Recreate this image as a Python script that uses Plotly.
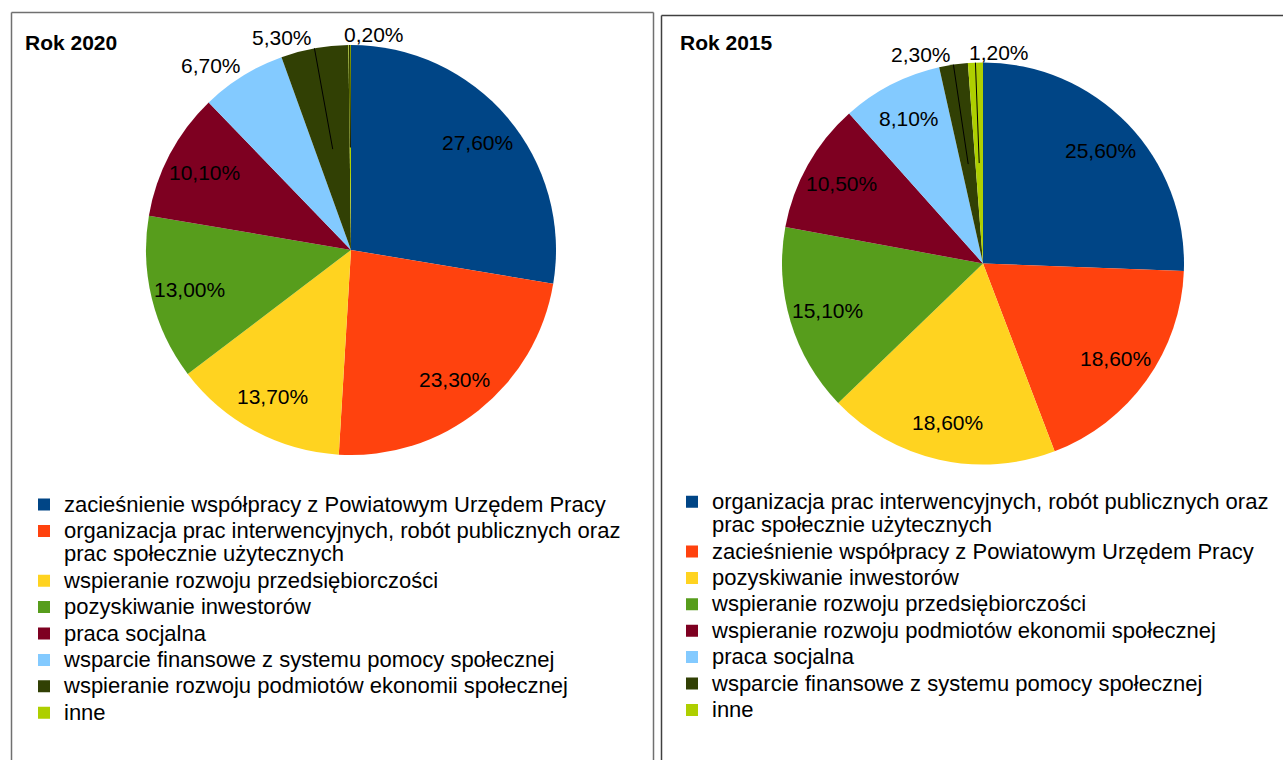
import math
import plotly.graph_objects as go

W, H = 1283, 760

# ---------------- data ----------------
cats_2020 = [
    "zacieśnienie współpracy z Powiatowym Urzędem Pracy",
    "organizacja prac interwencyjnych, robót publicznych oraz<br>prac społecznie użytecznych",
    "wspieranie rozwoju przedsiębiorczości",
    "pozyskiwanie inwestorów",
    "praca socjalna",
    "wsparcie finansowe z systemu pomocy społecznej",
    "wspieranie rozwoju podmiotów ekonomii społecznej",
    "inne",
]
vals_2020 = [27.6, 23.3, 13.7, 13.0, 10.1, 6.7, 5.3, 0.2]

cats_2015 = [
    "organizacja prac interwencyjnych, robót publicznych oraz<br>prac społecznie użytecznych",
    "zacieśnienie współpracy z Powiatowym Urzędem Pracy",
    "pozyskiwanie inwestorów",
    "wspieranie rozwoju przedsiębiorczości",
    "wspieranie rozwoju podmiotów ekonomii społecznej",
    "praca socjalna",
    "wsparcie finansowe z systemu pomocy społecznej",
    "inne",
]
vals_2015 = [25.6, 18.6, 18.6, 15.1, 10.5, 8.1, 2.3, 1.2]

titles = ["Rok 2020", "Rok 2015"]

# ---------------- style ----------------
colors = ["#004586", "#ff420e", "#ffd320", "#579d1c",
          "#7e0021", "#83caff", "#314004", "#aecf00"]
FONT = "Liberation Sans"
LABEL_SIZE = 21
LEGEND_TEXT_SIZE = 22

panels = [
    dict(cats=cats_2020, vals=vals_2020, title=titles[0], cx=351, cy=250, r=205,
         legend="legend", group="g2020", title_x=23, frame=(11.5, 12.5, 653.5),
         frame_color="#707070"),
    dict(cats=cats_2015, vals=vals_2015, title=titles[1], cx=983, cy=263.5, r=201,
         legend="legend2", group="g2015", title_x=678, frame=(661.5, 15.5, None),
         frame_color="#404040"),
]


def px(x):
    return x / W


def py(y):
    return 1 - y / H


def legend_label(name):
    return "<br>".join(
        f'<span style="font-size:{LEGEND_TEXT_SIZE}px">{part}</span>'
        for part in name.split("<br>")
    )


def fmt(v):
    return f"{v:.2f}".replace(".", ",") + "%"


def text_width(s, size):
    w = 0
    for ch in s:
        if ch.isdigit():
            w += 0.556
        elif ch == ",":
            w += 0.278
        elif ch == "%":
            w += 0.889
        else:
            w += 0.5
    return w * size


fig = go.Figure()
annotations = []
shapes = []

for p in panels:
    cx, cy, r = p["cx"], p["cy"], p["r"]
    fig.add_trace(go.Pie(
        labels=[legend_label(c) for c in p["cats"]],
        values=p["vals"],
        sort=False,
        direction="clockwise",
        rotation=0,
        marker=dict(colors=colors, line=dict(width=0)),
        textinfo="none",
        hoverinfo="label+percent",
        domain=dict(x=[px(cx - r), px(cx + r)], y=[py(cy + r), py(cy - r)]),
        legend=p["legend"],
        legendgroup=p["group"],
        showlegend=True,
    ))

    total = sum(p["vals"])
    cum = 0.0
    prev_box = None
    for v in p["vals"]:
        mid = (cum + v / 2) / total * 2 * math.pi
        cum += v
        sx, sy = math.sin(mid), -math.cos(mid)
        txt = fmt(v)
        if v >= 8:
            annotations.append(dict(
                x=px(cx + 0.81 * r * sx), y=py(cy + 0.81 * r * sy),
                xref="paper", yref="paper", text=txt, showarrow=False,
                xanchor="center", yanchor="middle",
                font=dict(family=FONT, size=LABEL_SIZE, color="black"),
            ))
        else:
            ax_, ay_ = cx + r * sx, cy + r * sy
            w = text_width(txt, LABEL_SIZE)
            if sx < 0:
                anchor, x0 = "right", ax_ - w
            else:
                anchor, x0 = "left", ax_
            box = (x0, x0 + w, ay_ - 27, ay_)
            if prev_box and box[0] < prev_box[1] and box[2] < prev_box[3] and box[3] > prev_box[2]:
                anchor = "left"
                ax_ = ax_ - 8
                box = (ax_, ax_ + w, box[2], box[3])
            prev_box = box
            annotations.append(dict(
                x=px(ax_), y=py(cy + r * sy),
                xref="paper", yref="paper", text=txt, showarrow=False,
                xanchor=anchor, yanchor="bottom", yshift=-3,
                font=dict(family=FONT, size=LABEL_SIZE, color="black"),
            ))
            if v < 6:
                shapes.append(dict(
                    type="line", xref="paper", yref="paper",
                    x0=px(cx + r * sx), y0=py(cy + r * sy),
                    x1=px(cx + 0.5 * r * sx), y1=py(cy + 0.5 * r * sy),
                    line=dict(color="black", width=1),
                ))

    annotations.append(dict(
        x=px(p["title_x"]), y=py(42.5), xref="paper", yref="paper",
        text=f"<b>{p['title']}</b>", showarrow=False,
        xanchor="left", yanchor="middle",
        font=dict(family=FONT, size=21, color="black"),
    ))

    fx0, fy0, fx1 = p["frame"]
    lc = dict(color=p["frame_color"], width=1.5)
    right_edge = fx1 if fx1 is not None else W + 2
    shapes.append(dict(type="line", xref="paper", yref="paper",
                       x0=px(fx0), y0=py(fy0), x1=px(right_edge), y1=py(fy0), line=lc))
    shapes.append(dict(type="line", xref="paper", yref="paper",
                       x0=px(fx0), y0=py(fy0), x1=px(fx0), y1=py(H + 2), line=lc))
    if fx1 is not None:
        shapes.append(dict(type="line", xref="paper", yref="paper",
                           x0=px(fx1), y0=py(fy0), x1=px(fx1), y1=py(H + 2), line=lc))

legend_common = dict(
    xanchor="left", yanchor="top", valign="top", traceorder="normal",
    font=dict(family=FONT, size=18, color="black"),
    bgcolor="rgba(0,0,0,0)", borderwidth=0,
)

fig.update_layout(
    width=W, height=H,
    margin=dict(l=0, r=0, t=0, b=0),
    paper_bgcolor="white", plot_bgcolor="white",
    font=dict(family=FONT, color="black"),
    showlegend=True,
    legend=dict(x=px(24), y=py(486.3), **legend_common),
    legend2=dict(x=px(672), y=py(483.5), **legend_common),
    annotations=annotations,
    shapes=shapes,
)

fig.write_html("out.html", config={"displayModeBar": False},
               post_script="document.body.style.margin='0px';")
